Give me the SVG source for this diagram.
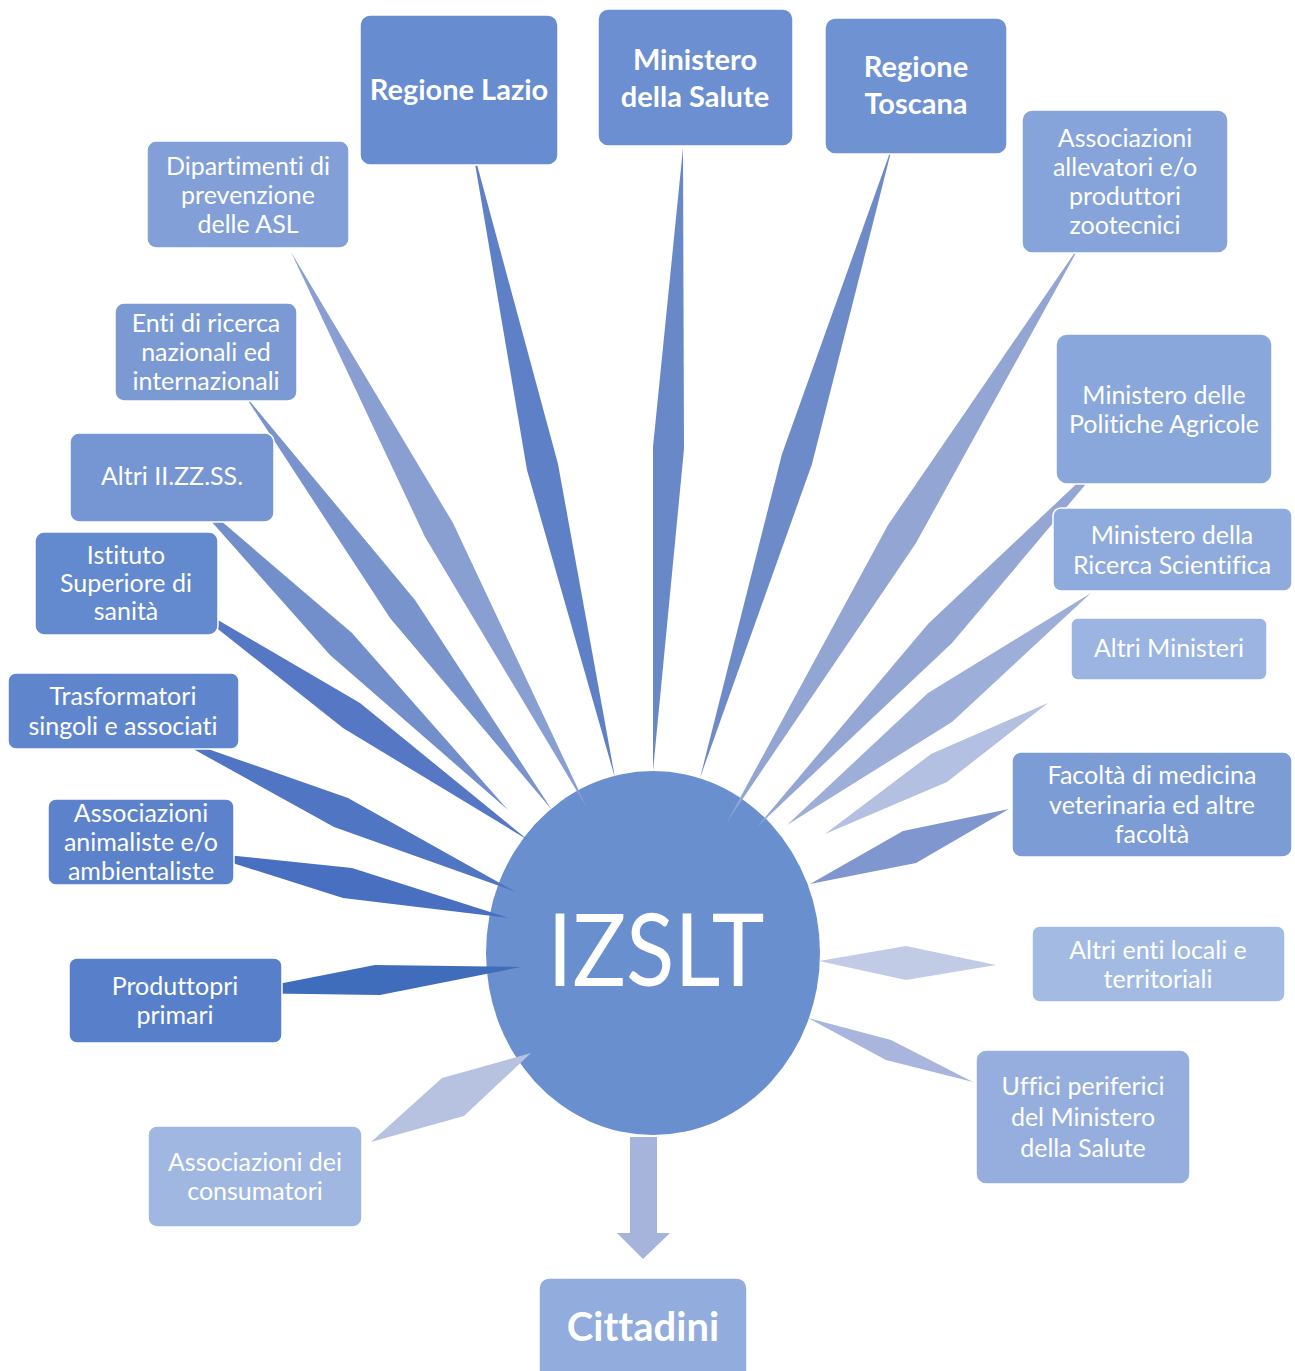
<svg xmlns="http://www.w3.org/2000/svg" width="1295" height="1371" viewBox="0 0 1295 1371">
<style>
.box{stroke:#ffffff;stroke-width:1.5}
text{font-variant-ligatures:none;font-feature-settings:"liga" 0}
.t{font-family:Lato,"Liberation Sans",sans-serif;font-size:25px;fill:#ffffff;text-anchor:middle}
.b{font-family:Lato,"Liberation Sans",sans-serif;font-size:29px;font-weight:bold;fill:#ffffff;text-anchor:middle}
</style>
<rect width="1295" height="1371" fill="#ffffff"/>
<g id="izslt">
<ellipse cx="653" cy="953" rx="167" ry="182" fill="#698fcf"/>
<text x="656" y="986" font-family="Lato,'Liberation Sans',sans-serif" font-size="100" fill="#ffffff" text-anchor="middle" textLength="217" lengthAdjust="spacingAndGlyphs">IZSLT</text>
</g>
<g id="connectors">
<polygon points="472,146 558,464 615,778 527,470" fill="#5e80c6"/>
<polygon points="683,148 684,449 653,771 653,447" fill="#6888c8"/>
<polygon points="893,144 812,464 700,778 782,454" fill="#6d8bc9"/>
<polygon points="291,252 453,523 587,808 425,537" fill="#8a9fd1"/>
<polygon points="243,393 415,600 552,810 390,618" fill="#7993cc"/>
<polygon points="179,485 352,633 508,810 330,655" fill="#728fcc"/>
<polygon points="175,595 360,703 528,840 343,728" fill="#5678c4"/>
<polygon points="168,735 348,798 516,892 334,827" fill="#5075c2"/>
<polygon points="198,852 352,868 509,918 343,898" fill="#486fc0"/>
<polygon points="232,993 375,965 521,967 380,995" fill="#406cbc"/>
<polygon points="1082,242 916,543 727,822 888,525" fill="#92a5d3"/>
<polygon points="1123,440 952,643 757,827 928,624" fill="#94a6d3"/>
<polygon points="1091,593 952,722 787,825 928,693" fill="#9dafd8"/>
<polygon points="1048,703 947,782 825,834 931,754" fill="#b3c0e1"/>
<polygon points="1009,809 916,863 810,884 903,831" fill="#7f96cf"/>
<polygon points="996,965 906,980 819,961 906,946" fill="#c1cbe5"/>
<polygon points="973,1082 886,1060 808,1018 891,1040" fill="#a9b5dc"/>
<polygon points="371,1142 464,1116 531,1053 442,1078" fill="#b7c2e1"/>
<polygon points="630,1137 657,1137 657,1233 670,1233 643,1259 617,1233 630,1233" fill="#a6b3da"/>
</g>
<g id="regione-lazio">
<rect class="box" x="360" y="15" width="198" height="150" rx="10" fill="#678ccf"/>
<text class="b" x="459" y="100">Regione Lazio</text>
</g>
<g id="ministero-salute">
<rect class="box" x="598" y="9" width="195" height="137" rx="10" fill="#6b8fd0"/>
<text class="b" x="695" y="70">Ministero</text>
<text class="b" x="695" y="107">della Salute</text>
</g>
<g id="regione-toscana">
<rect class="box" x="825" y="18" width="182" height="136" rx="10" fill="#6f92d2"/>
<text class="b" x="916" y="77">Regione</text>
<text class="b" x="916" y="114">Toscana</text>
</g>
<g id="dipartimenti">
<rect class="box" x="147" y="141" width="202" height="107" rx="9" fill="#82a0d7"/>
<text class="t" x="248" y="175">Dipartimenti di</text>
<text class="t" x="248" y="204">prevenzione</text>
<text class="t" x="248" y="233">delle ASL</text>
</g>
<g id="associazioni-allevatori">
<rect class="box" x="1022" y="110" width="206" height="143" rx="10" fill="#86a4d9"/>
<text class="t" x="1125" y="147">Associazioni</text>
<text class="t" x="1125" y="176">allevatori e/o</text>
<text class="t" x="1125" y="205">produttori</text>
<text class="t" x="1125" y="234">zootecnici</text>
</g>
<g id="enti-ricerca">
<rect class="box" x="115" y="303" width="182" height="98" rx="9" fill="#7b9ad4"/>
<text class="t" x="206" y="332">Enti di ricerca</text>
<text class="t" x="206" y="361">nazionali ed</text>
<text class="t" x="206" y="390">internazionali</text>
</g>
<g id="ministero-politiche-agricole">
<rect class="box" x="1056" y="334" width="216" height="150" rx="11" fill="#8aa7db"/>
<text class="t" x="1164" y="404">Ministero delle</text>
<text class="t" x="1164" y="433">Politiche Agricole</text>
</g>
<g id="altri-izs">
<rect class="box" x="70" y="433" width="204" height="89" rx="9" fill="#7596d2"/>
<text class="t" x="172" y="485">Altri II.ZZ.SS.</text>
</g>
<g id="ministero-ricerca">
<rect class="box" x="1053" y="508" width="239" height="83" rx="8" fill="#8fabdd"/>
<text class="t" x="1172" y="544">Ministero della</text>
<text class="t" x="1172" y="574">Ricerca Scientifica</text>
</g>
<g id="istituto-superiore">
<rect class="box" x="35" y="532" width="183" height="103" rx="9" fill="#6389ce"/>
<text class="t" x="126" y="564">Istituto</text>
<text class="t" x="126" y="592">Superiore di</text>
<text class="t" x="126" y="620">sanità</text>
</g>
<g id="altri-ministeri">
<rect class="box" x="1071" y="618" width="196" height="62" rx="7" fill="#9bb4e1"/>
<text class="t" x="1169" y="657">Altri Ministeri</text>
</g>
<g id="trasformatori">
<rect class="box" x="8" y="673" width="231" height="76" rx="8" fill="#5f86cd"/>
<text class="t" x="123" y="705">Trasformatori</text>
<text class="t" x="123" y="735">singoli e associati</text>
</g>
<g id="facolta">
<rect class="box" x="1012" y="752" width="280" height="105" rx="9" fill="#7c9cd6"/>
<text class="t" x="1152" y="784">Facoltà di medicina</text>
<text class="t" x="1152" y="814">veterinaria ed altre</text>
<text class="t" x="1152" y="843">facoltà</text>
</g>
<g id="associazioni-animaliste">
<rect class="box" x="48" y="799" width="186" height="86" rx="8" fill="#5b82cb"/>
<text class="t" x="141" y="822">Associazioni</text>
<text class="t" x="141" y="851">animaliste e/o</text>
<text class="t" x="141" y="880">ambientaliste</text>
</g>
<g id="altri-enti-locali">
<rect class="box" x="1032" y="926" width="253" height="76" rx="8" fill="#a3bbe3"/>
<text class="t" x="1158" y="959">Altri enti locali e</text>
<text class="t" x="1158" y="988">territoriali</text>
</g>
<g id="produttori-primari">
<rect class="box" x="69" y="958" width="213" height="85" rx="8" fill="#5880ca"/>
<text class="t" x="175" y="995">Produttopri</text>
<text class="t" x="175" y="1024">primari</text>
</g>
<g id="uffici-periferici">
<rect class="box" x="976" y="1050" width="214" height="134" rx="10" fill="#95aedd"/>
<text class="t" x="1083" y="1095">Uffici periferici</text>
<text class="t" x="1083" y="1126">del Ministero</text>
<text class="t" x="1083" y="1157">della Salute</text>
</g>
<g id="associazioni-consumatori">
<rect class="box" x="148" y="1126" width="214" height="101" rx="9" fill="#a0b7e2"/>
<text class="t" x="255" y="1171">Associazioni dei</text>
<text class="t" x="255" y="1200">consumatori</text>
</g>
<g id="cittadini">
<rect class="box" x="539" y="1278" width="208" height="110" rx="10" fill="#91acdd"/>
<text class="b" x="643" y="1341" style="font-size:40px">Cittadini</text>
</g>
</svg>
